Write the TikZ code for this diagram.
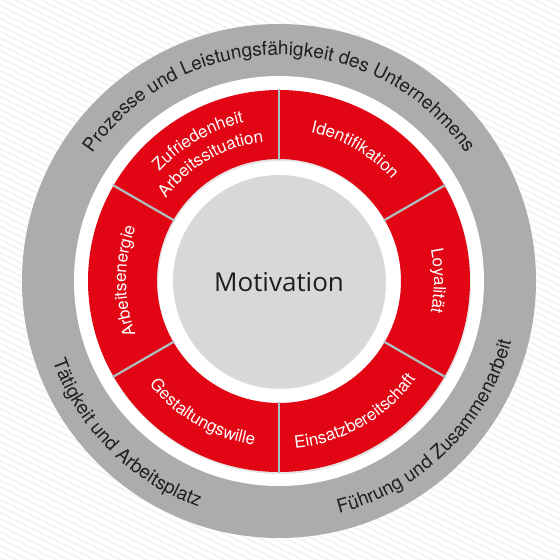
\documentclass[tikz,border=0pt]{standalone}
\usepackage{fontspec}
\setmainfont{TeX Gyre Heros}
\newfontfamily\motfont{Open Sans}
\usetikzlibrary{decorations.text}
\definecolor{segred}{RGB}{226,6,20}
\definecolor{ringgray}{RGB}{172,172,172}
\definecolor{coregray}{RGB}{216,216,216}
\definecolor{divider}{RGB}{172,192,192}
\definecolor{inktext}{RGB}{30,30,30}
\definecolor{stripe}{RGB}{243,243,243}
\begin{document}
\begin{tikzpicture}[x=1pt,y=1pt,
  outertext/.style={decorate, decoration={text along path, text align=center,
      text={|\fontsize{19}{22}\selectfont\color{inktext}|#1}}},
  redtext/.style={decorate, decoration={text along path, text align=center,
      text={|\fontsize{17}{20}\selectfont\color{white}|#1}}},
  stripeline/.style={stripe, line width=1.6pt}
]
\useasboundingbox (-279,-279) rectangle (281,281);
\fill[white] (-279,-279) rectangle (281,281);
\begin{scope}
  \clip (-279,-279) rectangle (281,281);
  \foreach \i in {-45,...,95} \draw[stripeline] (-300,{\i*6.5}) -- ++(600,-300);
\end{scope}
% outer gray ring
\fill[ringgray] (0,0) circle (257pt);
\fill[white] (0,0) circle (205pt);
% red ring with soft shadow
\fill[black!10, even odd rule] (1,-2) circle (191pt) (1,-2) circle (122pt);
\fill[segred, even odd rule] (0,0) circle (191pt) (0,0) circle (122pt);
\foreach \a in {90,30,-30,-90,210,150}
  \draw[divider, line width=2.2pt] (\a:121pt) -- (\a:192pt);
% core
\fill[black!14] (1,-2) circle (106pt);
\fill[coregray] (0,0) circle (106pt);
\node[font=\motfont\fontsize{26}{30}\selectfont, text=inktext] (motivation) at (0,-1) {Motivation};
% outer ring texts
\path[outertext={Prozesse und Leistungsfähigkeit des Unternehmens}]
  (180:226pt) arc[start angle=180, end angle=0, radius=226pt];
\path[outertext={Tätigkeit und Arbeitsplatz}]
  (160:240pt) arc[start angle=160, end angle=290, radius=240pt];
\path[outertext={Führung und Zusammenarbeit}]
  (-110:240pt) arc[start angle=-110, end angle=20, radius=240pt];
% red ring texts
\path[redtext={Zufriedenheit}]
  (150:162pt) arc[start angle=150, end angle=90, radius=162pt];
\path[redtext={Arbeitssituation}]
  (150:140pt) arc[start angle=150, end angle=90, radius=140pt];
\path[redtext={Identifikation}]
  (90:152pt) arc[start angle=90, end angle=30, radius=152pt];
\path[redtext={Loyalität}]
  (30:155pt) arc[start angle=30, end angle=-30, radius=155pt];
\path[redtext={Einsatzbereitschaft}]
  (-90:168pt) arc[start angle=-90, end angle=-30, radius=168pt];
\path[redtext={Gestaltungswille}]
  (210:166pt) arc[start angle=210, end angle=270, radius=166pt];
\path[redtext={Arbeitsenergie}]
  (210:153pt) arc[start angle=210, end angle=150, radius=153pt];
\end{tikzpicture}
\end{document}
